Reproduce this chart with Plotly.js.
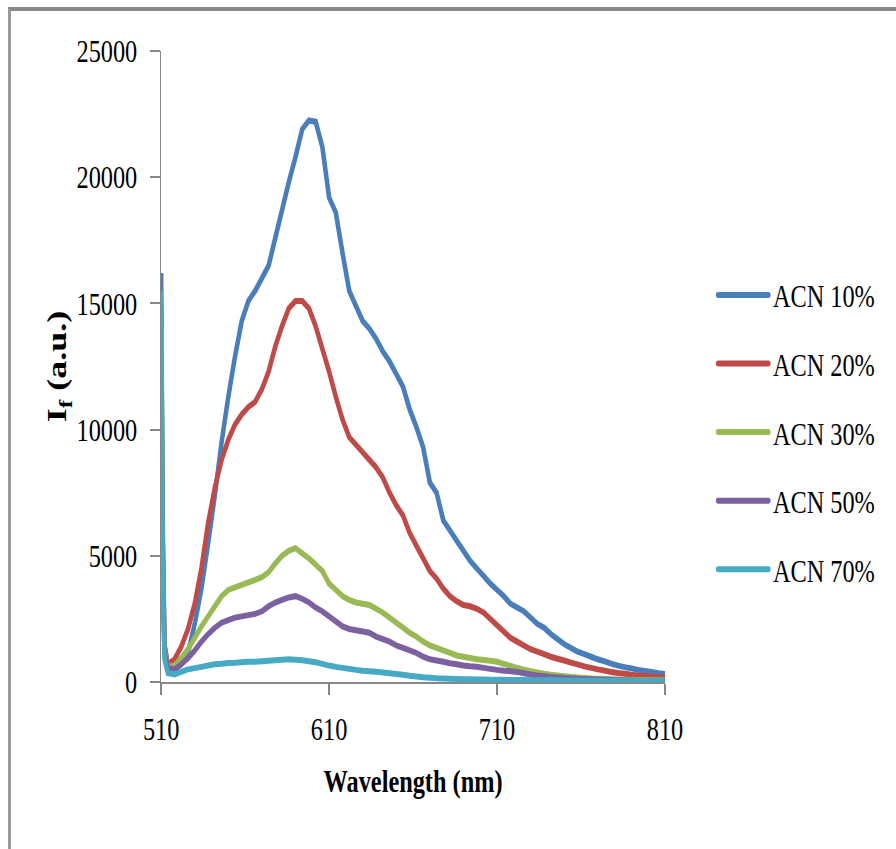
<!DOCTYPE html>
<html>
<head>
<meta charset="utf-8">
<script src="https://cdn.plot.ly/plotly-3.0.1.min.js"></script>
<style>
  html, body { margin: 0; padding: 0; background: #fff; overflow: hidden; width: 896px; height: 849px; }
  #plot { position: absolute; left: 0; top: 0; width: 1179px; height: 849px; transform: scaleX(0.76); transform-origin: 0 0; }
  #frame { position: absolute; left: 8px; top: 7px; width: 2000px; height: 2000px;
           border-top: 4px solid #8a8a8a; border-left: 3px solid #9a9a9a; pointer-events: none; box-sizing: border-box; }
</style>
</head>
<body>
<div id="plot"></div>
<div id="frame"></div>
<script>
const wavelength = [510, 511, 512, 514, 518, 522, 526, 530, 534, 538, 542, 546, 550, 554, 558, 562, 566, 570, 574, 578,
  582, 586, 590, 594, 598, 602, 606, 610, 614, 618, 622, 626, 630, 634, 638, 642, 646, 650, 654, 658,
  662, 666, 670, 674, 678, 682, 686, 690, 694, 698, 702, 706, 710, 714, 718, 722, 726, 730, 734, 738,
  742, 746, 750, 754, 758, 762, 766, 770, 774, 778, 782, 786, 790, 794, 798, 802, 806, 810];

const acn10 = [16200, 6000, 1500, 650, 480, 700, 1150, 2300, 3700, 5500, 7400, 9500, 11300, 12900, 14300, 15100, 15500, 16000, 16500, 17600,
  18700, 19800, 20800, 21900, 22250, 22200, 21200, 19200, 18600, 17000, 15500, 14900, 14300, 14000, 13600, 13100, 12700, 12200, 11700, 10800,
  10100, 9300, 7900, 7500, 6400, 6000, 5600, 5200, 4800, 4500, 4200, 3900, 3650, 3400, 3100, 2950, 2800, 2550, 2300, 2150,
  1900, 1700, 1500, 1350, 1200, 1100, 1000, 900, 820, 730, 650, 590, 540, 480, 440, 400, 350, 320];

const acn20 = [15000, 5500, 1400, 700, 900, 1400, 2100, 3100, 4500, 6300, 7700, 8800, 9600, 10200, 10600, 10900, 11100, 11600, 12300, 13300,
  14100, 14800, 15100, 15100, 14800, 14100, 13200, 12300, 11300, 10400, 9700, 9400, 9100, 8800, 8500, 8100, 7500, 7000, 6600, 5900,
  5400, 4900, 4400, 4100, 3700, 3400, 3200, 3050, 3000, 2900, 2750, 2500, 2250, 2000, 1750, 1600, 1450, 1300, 1200, 1100,
  1000, 920, 850, 770, 700, 620, 560, 500, 450, 400, 360, 330, 290, 260, 240, 220, 200, 180];

const acn30 = [14000, 5000, 1300, 600, 650, 950, 1300, 1750, 2200, 2600, 3000, 3400, 3650, 3750, 3850, 3950, 4050, 4150, 4350, 4700,
  5000, 5200, 5300, 5100, 4900, 4650, 4400, 3900, 3650, 3400, 3250, 3150, 3100, 3050, 2900, 2750, 2550, 2350, 2150, 1950,
  1800, 1600, 1450, 1350, 1250, 1150, 1050, 1000, 950, 900, 870, 840, 800, 720, 640, 560, 490, 430, 380, 330,
  290, 260, 230, 200, 180, 160, 140, 130, 120, 110, 100, 90, 90, 80, 80, 70, 70, 60];

const acn50 = [13000, 4500, 1200, 550, 500, 700, 950, 1250, 1600, 1900, 2150, 2350, 2450, 2550, 2600, 2650, 2700, 2800, 3000, 3150,
  3250, 3350, 3400, 3300, 3150, 2950, 2800, 2600, 2400, 2200, 2100, 2050, 2000, 1950, 1800, 1700, 1600, 1450, 1350, 1250,
  1150, 1000, 900, 850, 800, 740, 700, 650, 620, 600, 560, 520, 480, 450, 430, 400, 350, 300, 260, 230,
  200, 180, 160, 150, 130, 120, 110, 100, 90, 80, 70, 60, 60, 50, 50, 40, 40, 30];

const acn70 = [15500, 4000, 900, 350, 300, 400, 500, 550, 600, 650, 700, 720, 750, 760, 780, 800, 800, 820, 840, 860,
  880, 900, 880, 860, 820, 780, 720, 650, 600, 560, 520, 480, 450, 430, 410, 380, 350, 320, 290, 250,
  220, 190, 170, 150, 140, 130, 120, 110, 110, 100, 100, 90, 90, 90, 80, 80, 80, 70, 70, 70,
  70, 60, 60, 60, 60, 50, 50, 50, 50, 50, 50, 40, 40, 40, 40, 40, 40, 40];

const seriesNames = ["ACN 10%", "ACN 20%", "ACN 30%", "ACN 50%", "ACN 70%"];
const seriesColors = ["#4A7EBB", "#BE4B48", "#98B954", "#7D60A0", "#46AAC5"];
const seriesValues = [acn10, acn20, acn30, acn50, acn70];
const xTicks = [510, 610, 710, 810];
const yTicks = [0, 5000, 10000, 15000, 20000, 25000];

const FONT = "Liberation Serif, Times New Roman, serif";

const traces = seriesNames.map((name, i) => ({
  x: wavelength,
  y: seriesValues[i],
  type: "scatter",
  mode: "lines",
  name: name,
  legendgroup: "g" + i,
  line: { color: seriesColors[i], width: 6, simplify: false }
}));

const layout = {
  width: 1179,
  height: 849,
  margin: { l: 212, r: 304, t: 51, b: 167 },
  paper_bgcolor: "#fff",
  plot_bgcolor: "#fff",
  font: { family: FONT, size: 32, color: "#000" },
  showlegend: true,
  legend: {
    x: 1.0995, xanchor: "left", xref: "paper",
    y: 0.396, yanchor: "middle",
    font: { family: FONT, size: 32, color: "#000" },
    traceorder: "grouped",
    tracegroupgap: 24,
    itemwidth: 66,
    bgcolor: "rgba(0,0,0,0)"
  },
  xaxis: {
    range: [510, 810],
    tickvals: xTicks,
    ticktext: xTicks.map(String),
    ticks: "outside",
    ticklen: 11,
    tickwidth: 2,
    tickcolor: "#868686",
    ticklabelstandoff: 7,
    showline: true,
    linecolor: "#868686",
    linewidth: 2,
    showgrid: false,
    zeroline: false,
    tickfont: { family: FONT, size: 32, color: "#000" },
    title: { text: "<b>Wavelength (nm)</b>", font: { family: FONT, size: 32, color: "#000" }, standoff: 23 }
  },
  yaxis: {
    range: [0, 25000],
    tickvals: yTicks,
    ticktext: yTicks.map(String),
    ticks: "outside",
    ticklen: 12,
    tickwidth: 2,
    tickcolor: "#868686",
    ticklabelstandoff: 11,
    showline: true,
    linecolor: "#868686",
    linewidth: 2,
    showgrid: false,
    zeroline: false,
    tickfont: { family: FONT, size: 32, color: "#000" },
    title: { text: "<b>I<sub>f</sub> (a.u.)</b>", font: { family: FONT, size: 36, color: "#000" }, standoff: 2 }
  }
};

Plotly.newPlot("plot", traces, layout, { staticPlot: true, displayModeBar: false }).then(() => {
  document.querySelectorAll("#plot .legend .legendlines path").forEach(p => {
    p.setAttribute("d", "M4,0h66");
    p.style.strokeLinecap = "round";
  });
});
</script>
</body>
</html>
